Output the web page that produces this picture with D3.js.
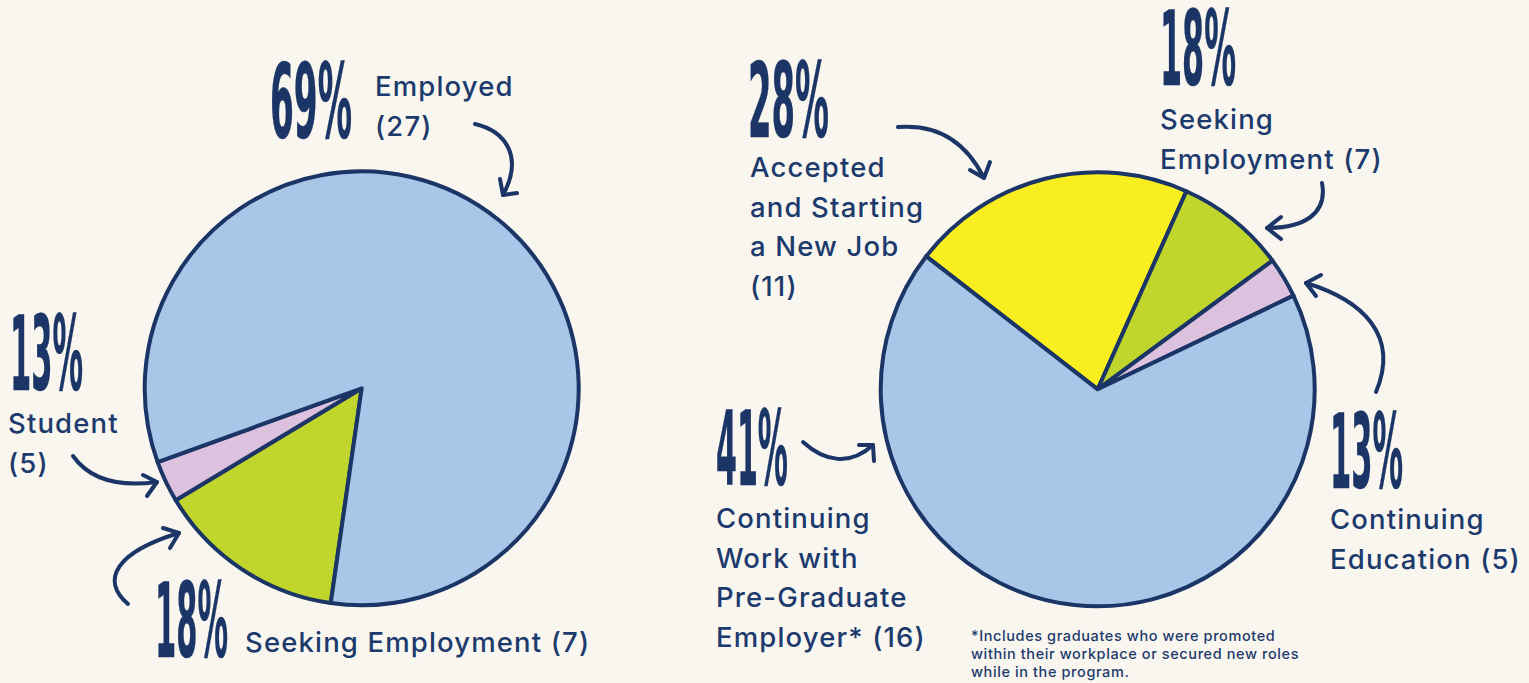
<!DOCTYPE html>
<html>
<head>
<meta charset="utf-8">
<script src="https://cdn.jsdelivr.net/npm/d3@7"></script>
<style>
  html, body { margin: 0; padding: 0; background: #f8f6ef; }
  svg { display: block; }
  .lbl { font-family: Inter, "Open Sans", sans-serif; font-weight: 500; fill: #1d3a6c; }
  .big { font-family: "Liberation Sans Narrow", "DejaVu Sans Condensed", sans-serif; font-weight: 700; fill: #1b3566; stroke: #1b3566; stroke-width: 0.4px; }
</style>
</head>
<body>
<svg id="chart" width="1529" height="683"></svg>
<script>
// left pie: all graduates
const leftNames = ["Seeking Employment", "Student", "Employed"];
const leftPct = [18, 13, 69];
const leftCount = [7, 5, 27];
// slice sizes as drawn in the picture (they don't follow the labels)
const leftShare = [14.1, 3.1, 82.8];
const leftStartDeg = 188.2;

// right pie: employed graduates
const rightNames = ["Accepted and Starting a New Job", "Seeking Employment", "Continuing Education", "Continuing Work with Pre-Graduate Employer*"];
const rightPct = [28, 18, 13, 41];
const rightCount = [11, 7, 5, 16];
const rightShare = [21.2, 8.2, 3.0, 67.6];
const rightStartDeg = -52.2;

const leftLines = [["Seeking Employment (7)"], ["Student", "(5)"], ["Employed", "(27)"]];
const rightLines = [["Accepted", "and Starting", "a New Job", "(11)"], ["Seeking", "Employment (7)"], ["Continuing", "Education (5)"], ["Continuing", "Work with", "Pre-Graduate", "Employer* (16)"]];

const footnote = ["*Includes graduates who were promoted", "within their workplace or secured new roles", "while in the program."];

const color = d3.scaleOrdinal()
  .domain(["Employed", "Seeking Employment", "Student", "Accepted and Starting a New Job", "Continuing Education", "Continuing Work with Pre-Graduate Employer*"])
  .range(["#a8c6e8", "#c0d62d", "#dcc2de", "#f8ee20", "#dcc2de", "#a8c6e8"]);

const navy = "#1b3566";
const svg = d3.select("#chart");
const rad = Math.PI / 180;

function drawPie(cx, cy, names, share, startDeg) {
  let pie = d3.pie().sort(null).value(d => d.v)
    .startAngle(startDeg * rad).endAngle(startDeg * rad + 2 * Math.PI);
  let arc = d3.arc().innerRadius(0).outerRadius(217);
  let g = svg.append("g").attr("transform", "translate(" + cx + "," + cy + ")");
  g.selectAll("path")
    .data(pie(names.map((n, i) => ({name: n, v: share[i]}))))
    .enter().append("path")
    .attr("d", arc)
    .attr("fill", d => color(d.data.name))
    .attr("stroke", navy)
    .attr("stroke-width", 4)
    .attr("stroke-linejoin", "round");
}

drawPie(361.7, 388.3, leftNames, leftShare, leftStartDeg);
drawPie(1097.7, 389.3, rightNames, rightShare, rightStartDeg);

// label placement: big number (x, baseline, width), text (x, first baseline)
const leftPos = [
  {nx: 155, ny: 657, nw: 73, tx: 245, ty: 652},
  {nx: 10, ny: 390, nw: 73, tx: 8, ty: 433},
  {nx: 270, ny: 138, nw: 82, tx: 375, ty: 96}
];
const rightPos = [
  {nx: 748, ny: 137, nw: 81, tx: 750, ty: 177},
  {nx: 1160, ny: 85, nw: 76, tx: 1160, ty: 129},
  {nx: 1330, ny: 488, nw: 73, tx: 1330, ty: 529},
  {nx: 716, ny: 485, nw: 72, tx: 716, ty: 528}
];

function drawLabels(pct, lines, pos) {
  pct.forEach((p, i) => {
    let o = pos[i];
    // tall condensed numerals: squeeze a normal font to the measured width
    let t = svg.append("text").attr("class", "big")
      .attr("font-size", 77)
      .text(p + "%");
    let w = t.node().getComputedTextLength();
    t.attr("transform", "translate(" + o.nx + "," + o.ny + ") scale(" + (o.nw / w) + ",1.35)");
    lines[i].forEach((s, j) => {
      svg.append("text").attr("class", "lbl")
        .attr("x", o.tx).attr("y", o.ty + j * 39.5)
        .attr("font-size", 27.5)
        .attr("letter-spacing", 1.15)
        .text(s);
    });
  });
}
drawLabels(leftPct, leftLines, leftPos);
drawLabels(rightPct, rightLines, rightPos);

// arrows: curve + two arrowhead arms
const arrows = [
  {d: "M475,124 C505,131 524,156 503,195", a: [[500, 179], [517, 193]]},
  {d: "M73,456 C90,480 120,487 157,482", a: [[143, 475], [147, 496]]},
  {d: "M128,604 C100,580 116,552 179,533", a: [[163, 528], [170, 548]]},
  {d: "M898,127 C935,124 965,140 984,178", a: [[970, 170], [990, 162]]},
  {d: "M1322,183 C1328,215 1302,228 1267,228", a: [[1281, 217], [1281, 239]]},
  {d: "M1376,392 C1400,335 1362,300 1306,283", a: [[1321, 275], [1316, 296]]},
  {d: "M803,442 C825,462 850,466 873,445", a: [[859, 445], [874, 461]]}
];
const ag = svg.append("g")
  .attr("fill", "none").attr("stroke", navy)
  .attr("stroke-width", 4).attr("stroke-linecap", "round").attr("stroke-linejoin", "round");
arrows.forEach(a => {
  ag.append("path").attr("d", a.d);
  let tip = a.d.trim().split(" ").pop();
  ag.append("path").attr("d", "M" + a.a[0].join(",") + " L" + tip + " L" + a.a[1].join(","));
});

svg.append("g").selectAll("text")
  .data(footnote)
  .enter().append("text")
  .attr("class", "lbl")
  .attr("x", 971)
  .attr("y", (d, i) => 641 + i * 18)
  .attr("font-size", 14.5)
  .attr("font-weight", 600)
  .attr("letter-spacing", 0.6)
  .text(d => d);
</script>
</body>
</html>
